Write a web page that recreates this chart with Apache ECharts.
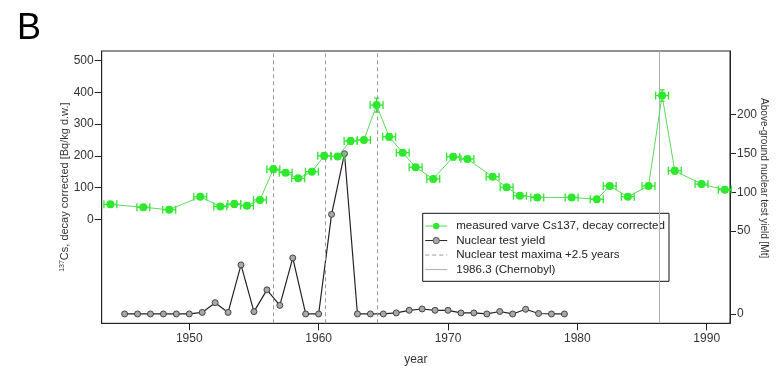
<!DOCTYPE html>
<html>
<head>
<meta charset="utf-8">
<script src="https://cdn.jsdelivr.net/npm/echarts@6/dist/echarts.min.js"></script>
<style>html,body{margin:0;padding:0;background:#fff}#c{width:777px;height:366px}</style>
</head>
<body>
<div id="c"></div>
<script>
// ---- data ----
const csYears = [1943.9, 1946.45, 1948.45, 1950.85, 1952.4, 1953.48, 1954.46, 1955.46, 1956.5, 1957.45,
  1958.42, 1959.48, 1960.43, 1961.47, 1962.47, 1963.5, 1964.48, 1965.45, 1966.5, 1967.5,
  1968.86, 1970.4, 1971.5, 1973.45, 1974.53, 1975.56, 1976.9, 1979.56, 1981.5, 1982.5,
  1983.9, 1985.5, 1986.55, 1987.53, 1989.6, 1991.4];
const csValues = [47, 38, 30, 71, 40, 48, 43, 61, 158, 147,
  129, 150, 200, 198, 247, 250, 360, 260, 210, 164,
  127, 197, 190, 134, 101, 74, 69, 69, 63, 105,
  71, 105, 390, 153, 111, 93];
const csErrY = [8, 8, 8, 8, 8, 10, 8, 8, 10, 8,
  8, 8, 10, 8, 10, 8, 22, 10, 8, 8,
  8, 10, 8, 8, 8, 8, 8, 8, 8, 8,
  8, 8, 18, 10, 8, 8];
const csErrX = 0.5;

const yieldYears = [1945, 1946, 1947, 1948, 1949, 1950, 1951, 1952, 1953, 1954, 1955, 1956,
  1957, 1958, 1959, 1960, 1961, 1962, 1963, 1964, 1965, 1966, 1967, 1968, 1969, 1970,
  1971, 1972, 1973, 1974, 1975, 1976, 1977, 1978, 1979];
const yieldValues = [0, 0, 0, 0, 0, 0, 2, 14.5, 2, 63, 3, 31,
  11, 72, 0, 0, 128, 206, 0, 0, 0, 1.3, 4.7, 6.4, 4.7, 4.7,
  1.3, 1.3, 0, 3.2, 0, 6, 0.6, 0, 0];

const testMaximaPlus25 = [1956.5, 1960.5, 1964.5];
const chernobyl = [1986.3];

const xTicks = [1950, 1960, 1970, 1980, 1990];
const leftTicks = [0, 100, 200, 300, 400, 500];
const rightTickPos = [0, 106.5, 156.5, 206.5, 256.5];
const rightTickLabels = ['0', '50', '100', '150', '200'];

// ---- chart ----
const GREEN = '#2ee82e';
const GREEN_LINE = '#5ada5a';
const chart = echarts.init(document.getElementById('c'), null, {renderer: 'canvas'});

const errData = csYears.map((y, i) => [y, csValues[i], csErrX, csErrY[i]]);

function renderErr(params, api) {
  const x = api.value(0), y = api.value(1), ex = api.value(2), ey = api.value(3);
  const l = api.coord([x - ex, y]);
  const r = api.coord([x + ex, y]);
  const t = api.coord([x, y + ey]);
  const b = api.coord([x, y - ey]);
  const st = {stroke: GREEN, lineWidth: 1.3};
  const cap = 4, capv = 2.5;
  return {
    type: 'group',
    children: [
      {type: 'line', shape: {x1: l[0], y1: l[1], x2: r[0], y2: r[1]}, style: st},
      {type: 'line', shape: {x1: l[0], y1: l[1] - cap, x2: l[0], y2: l[1] + cap}, style: st},
      {type: 'line', shape: {x1: r[0], y1: r[1] - cap, x2: r[0], y2: r[1] + cap}, style: st},
      {type: 'line', shape: {x1: t[0], y1: t[1], x2: b[0], y2: b[1]}, style: st},
      {type: 'line', shape: {x1: t[0] - capv, y1: t[1], x2: t[0] + capv, y2: t[1]}, style: st},
      {type: 'line', shape: {x1: b[0] - capv, y1: b[1], x2: b[0] + capv, y2: b[1]}, style: st}
    ]
  };
}

const axisTextColor = '#333';
const FONT = 'Liberation Sans, Arial, sans-serif';

chart.setOption({
  animation: false,
  backgroundColor: '#fff',
  textStyle: {fontFamily: FONT},
  title: {
    text: 'B', left: 12, top: 6,
    textStyle: {fontSize: 36, fontWeight: 'normal', color: '#000', fontFamily: FONT}
  },
  grid: {
    left: 101.7, right: 47, top: 51, bottom: 42.7,
    containLabel: false, outerBoundsMode: 'none',
    show: true, borderColor: '#222', borderWidth: 1, backgroundColor: 'transparent'
  },
  legend: {
    orient: 'vertical',
    left: 422.7, top: 213.3,
    backgroundColor: '#fff',
    borderColor: '#111', borderWidth: 1, borderRadius: 0,
    padding: [6, 4, 5, 2],
    itemWidth: 22, itemHeight: 8, itemGap: 1,
    textStyle: {fontSize: 11.6, color: '#222', fontFamily: FONT, lineHeight: 13.5, padding: [0, 0, 0, 4]},
    data: [
      {name: 'measured varve Cs137, decay corrected',
        itemStyle: {color: GREEN}, lineStyle: {color: GREEN_LINE, width: 1}},
      {name: 'Nuclear test yield',
        itemStyle: {color: '#a8a8a8', borderColor: '#444', borderWidth: 0.8}, lineStyle: {color: '#222', width: 1}},
      {name: 'Nuclear test maxima +2.5 years',
        itemStyle: {opacity: 0}, lineStyle: {type: [4, 3], color: '#9a9a9a', width: 1}},
      {name: '1986.3 (Chernobyl)',
        itemStyle: {opacity: 0}, lineStyle: {type: 'solid', color: '#b0b0b0', width: 1}}
    ]
  },
  xAxis: {
    type: 'value', min: 1943.23, max: 1991.8,
    name: 'year', nameLocation: 'middle', nameGap: 30, nameMoveOverlap: false,
    nameTextStyle: {fontSize: 12, color: axisTextColor},
    axisLine: {show: true, onZero: false, lineStyle: {color: '#222'}},
    axisTick: {show: true, length: 7, customValues: xTicks, lineStyle: {color: '#222'}},
    axisLabel: {customValues: xTicks, fontSize: 12, color: axisTextColor, margin: 9,
      formatter: v => String(v)},
    splitLine: {show: false}
  },
  yAxis: [{
    type: 'value', min: -328, max: 530.6, position: 'left',
    name: '{sup|137}{n|Cs, decay corrected [Bq/kg d.w.]}',
    nameLocation: 'middle', nameGap: 31, nameRotate: 90, nameMoveOverlap: false,
    nameTextStyle: {
      color: axisTextColor,
      rich: {
        sup: {fontSize: 7, color: axisTextColor, verticalAlign: 'top', lineHeight: 12, fontFamily: FONT},
        n: {fontSize: 11, color: axisTextColor, lineHeight: 12, fontFamily: FONT}
      }
    },
    axisLine: {show: true, onZero: false, lineStyle: {color: '#222'}},
    axisTick: {show: true, length: 7, customValues: leftTicks, lineStyle: {color: '#222'}},
    axisLabel: {customValues: leftTicks, fontSize: 12, color: axisTextColor, margin: 8,
      formatter: v => String(v)},
    splitLine: {show: false}
  }, {
    type: 'value', min: -12, max: 338, position: 'right',
    name: 'Above-ground nuclear test yield [Mt]',
    nameLocation: 'middle', nameGap: 29, nameRotate: -90, nameMoveOverlap: false,
    nameTextStyle: {fontSize: 10, color: axisTextColor, padding: [0, 18, 0, 0]},
    axisLine: {show: true, onZero: false, lineStyle: {color: '#222'}},
    axisTick: {show: true, length: 6, customValues: rightTickPos, lineStyle: {color: '#222'}},
    axisLabel: {
      customValues: rightTickPos, fontSize: 12, color: axisTextColor, margin: 7,
      formatter: v => {
        const i = rightTickPos.indexOf(v);
        return i >= 0 ? rightTickLabels[i] : '';
      }
    },
    splitLine: {show: false}
  }],
  series: [{
    name: 'Nuclear test maxima +2.5 years',
    type: 'line', data: [], symbol: 'none', z: 1,
    itemStyle: {color: '#9a9a9a'},
    lineStyle: {type: [4, 3], color: '#9a9a9a', width: 1},
    markLine: {
      silent: true, symbol: ['none', 'none'], label: {show: false},
      lineStyle: {type: [4, 3], color: '#9a9a9a', width: 1},
      emphasis: {disabled: true},
      data: testMaximaPlus25.map(v => ({xAxis: v}))
    }
  }, {
    name: '1986.3 (Chernobyl)',
    type: 'line', data: [], symbol: 'none', z: 1,
    itemStyle: {color: '#b0b0b0'},
    lineStyle: {type: 'solid', color: '#b0b0b0', width: 1},
    markLine: {
      silent: true, symbol: ['none', 'none'], label: {show: false},
      lineStyle: {type: 'solid', color: '#b0b0b0', width: 1},
      emphasis: {disabled: true},
      data: chernobyl.map(v => ({xAxis: v}))
    }
  }, {
    name: 'Nuclear test yield',
    type: 'line', yAxisIndex: 1, z: 3,
    data: yieldYears.map((y, i) => [y, yieldValues[i]]),
    symbol: 'circle', symbolSize: 6,
    itemStyle: {color: '#a8a8a8', borderColor: '#444', borderWidth: 1},
    lineStyle: {color: '#222', width: 1.2}
  }, {
    name: 'err',
    type: 'custom', yAxisIndex: 0, z: 4,
    renderItem: renderErr,
    encode: {x: 0, y: 1},
    data: errData,
    silent: true
  }, {
    name: 'measured varve Cs137, decay corrected',
    type: 'line', yAxisIndex: 0, z: 5,
    data: csYears.map((y, i) => [y, csValues[i]]),
    symbol: 'circle', symbolSize: 8,
    itemStyle: {color: GREEN, borderWidth: 0},
    lineStyle: {color: GREEN_LINE, width: 1}
  }]
});
</script>
</body>
</html>
